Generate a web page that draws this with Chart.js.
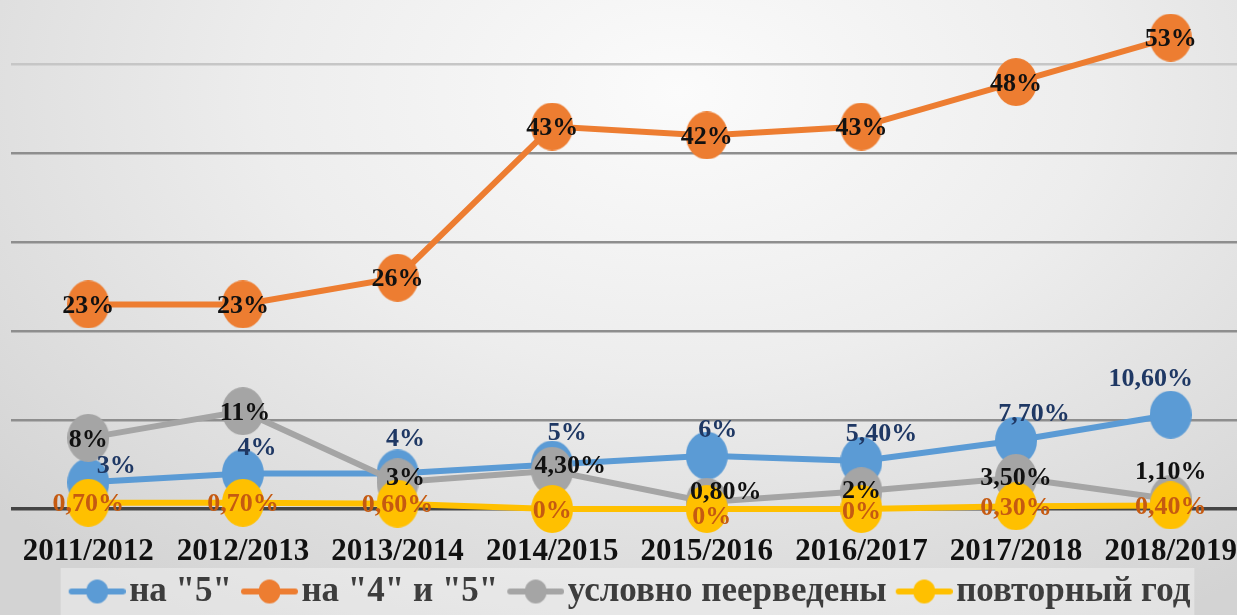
<!DOCTYPE html>
<html>
<head>
<meta charset="utf-8">
<script src="https://cdn.jsdelivr.net/npm/chart.js@4.4.1/dist/chart.umd.min.js"></script>
<style>
  html, body { margin: 0; padding: 0; width: 1237px; height: 615px; overflow: hidden; }
  body { background: radial-gradient(ellipse 75% 100% at 55% 15%, #fbfbfb 0%, #ededed 45%, #d3d3d3 100%); }
  #wrap { width: 1248px; height: 615px; position: relative; }
</style>
</head>
<body>
<div id="wrap"><canvas id="chart"></canvas></div>
<script>
const years = ["2011/2012", "2012/2013", "2013/2014", "2014/2015", "2015/2016", "2016/2017", "2017/2018", "2018/2019"];
const na5 = [3, 4, 4, 5, 6, 5.4, 7.7, 10.6];
const na4i5 = [23, 23, 26, 43, 42, 43, 48, 53];
const uslovno = [8, 11, 3, 4.3, 0.8, 2, 3.5, 1.1];
const povtorny = [0.7, 0.7, 0.6, 0, 0, 0, 0.3, 0.4];
const seriesNames = ['на "5"', 'на "4" и "5"', 'условно пеерведены', 'повторный год'];
const yTicks = [0, 10, 20, 30, 40, 50];

const colors = ['#5b9bd5', '#ed7d31', '#a5a5a5', '#ffc000'];
const labelColors = ['#1f3864', '#111111', '#111111', '#c55a11'];
// label nudges (dx, dy) per series, per point
const labelShift = [
  [[28, -16], [14, -25], [8, -34], [15, -31], [11, -25], [20, -27], [18, -26], [-20, -35]],
  [[0, 2], [0, 2], [0, 2], [0, 2], [0, 2], [0, 2], [0, 2], [0, 2]],
  [[0, 2], [2, 2], [8, -4], [18, -4], [19, -10], [0, 0], [0, 0], [0, -27]],
  [[0, 2], [0, 2], [0, 2], [0, 2], [5, 8], [0, 3], [0, 2], [0, 2]]
];

function fmt(v) {
  return Number.isInteger(v) ? v + '%' : v.toFixed(2).replace('.', ',') + '%';
}

function ellipse(color) {
  const c = document.createElement('canvas');
  c.width = 42; c.height = 48;
  const g = c.getContext('2d');
  g.fillStyle = color;
  g.beginPath();
  g.ellipse(21, 24, 21, 24, 0, 0, Math.PI * 2);
  g.fill();
  return c;
}

// legend marker: line with a dot, shifted right inside a wider transparent image
function legendIcon(color) {
  const c = document.createElement('canvas');
  c.width = 71; c.height = 28;
  const g = c.getContext('2d');
  g.strokeStyle = color; g.lineWidth = 6; g.lineCap = 'round';
  g.beginPath(); g.moveTo(17, 14); g.lineTo(68, 14); g.stroke();
  g.fillStyle = color;
  g.beginPath(); g.ellipse(42.5, 14, 11, 12, 0, 0, Math.PI * 2); g.fill();
  return c;
}
const legendIcons = colors.map(legendIcon);

const pointLabels = {
  id: 'pointLabels',
  afterDatasetsDraw(chart) {
    const ctx = chart.ctx;
    ctx.save();
    ctx.font = 'bold 26px "Liberation Serif"';
    ctx.textAlign = 'center';
    ctx.textBaseline = 'middle';
    chart.data.datasets.forEach((ds, i) => {
      chart.getDatasetMeta(i).data.forEach((pt, j) => {
        const s = labelShift[i][j];
        ctx.fillStyle = labelColors[i];
        ctx.fillText(fmt(ds.data[j]), pt.x + s[0], pt.y + s[1]);
      });
    });
    ctx.restore();
  }
};

const legendBox = {
  id: 'legendBox',
  beforeDraw(chart) {
    const lg = chart.legend;
    if (!lg || !lg.legendHitBoxes.length) return;
    const hb = lg.legendHitBoxes;
    const x0 = hb[0].left - 8;
    const x1 = hb[hb.length - 1].left + hb[hb.length - 1].width + 4;
    const ctx = chart.ctx;
    ctx.save();
    ctx.fillStyle = 'rgba(255,255,255,0.35)';
    ctx.fillRect(x0, lg.top + 3, x1 - x0, 615 - lg.top);
    ctx.restore();
  }
};

function series(i, data, order) {
  return {
    label: seriesNames[i],
    data: data,
    borderColor: colors[i],
    backgroundColor: colors[i],
    borderWidth: 6,
    pointStyle: ellipse(colors[i]),
    pointRadius: 21,
    pointHoverRadius: 21,
    order: order,
    clip: false
  };
}

new Chart(document.getElementById('chart'), {
  type: 'line',
  data: {
    labels: years,
    datasets: [
      series(0, na5, 4),
      series(1, na4i5, 3),
      series(2, uslovno, 2),
      series(3, povtorny, 1)
    ]
  },
  options: {
    responsive: true,
    maintainAspectRatio: false,
    animation: false,
    layout: { autoPadding: false, padding: { top: 2, left: 11, right: 0, bottom: -4 } },
    scales: {
      x: {
        offset: true,
        grid: { display: false, drawTicks: false },
        border: { display: false },
        ticks: {
          padding: 24,
          color: '#111111',
          font: { family: 'Liberation Serif', size: 31, weight: 'bold' },
          maxRotation: 0,
          autoSkip: false
        },
        afterFit: s => { s.paddingLeft = 0; s.paddingRight = 0; s.height = 56; }
      },
      y: {
        min: 0,
        max: 57,
        afterBuildTicks: s => { s.ticks = yTicks.map(v => ({ value: v })); },
        afterFit: s => { s.paddingTop = 0; s.paddingBottom = 0; s.width = 0; },
        ticks: { display: false },
        border: { display: false },
        grid: {
          drawTicks: false,
          color: c => c.tick.value === 0 ? '#444444' : (c.tick.value === 50 ? '#c6c6c6' : '#8e8e8e'),
          lineWidth: c => c.tick.value === 0 ? 3.5 : 2.5
        }
      }
    },
    plugins: {
      tooltip: { enabled: false },
      legend: {
        position: 'bottom',
        labels: {
          usePointStyle: true,
          pointStyleWidth: 43,
          padding: 9,
          color: '#3d3d3d',
          font: { family: 'Liberation Serif', size: 35, weight: 'bold' },
          sort: (a, b) => a.datasetIndex - b.datasetIndex,
          generateLabels(chart) {
            const items = Chart.defaults.plugins.legend.labels.generateLabels(chart);
            items.forEach(it => { it.pointStyle = legendIcons[it.datasetIndex]; });
            return items;
          }
        }
      }
    }
  },
  plugins: [legendBox, pointLabels]
});
</script>
</body>
</html>
